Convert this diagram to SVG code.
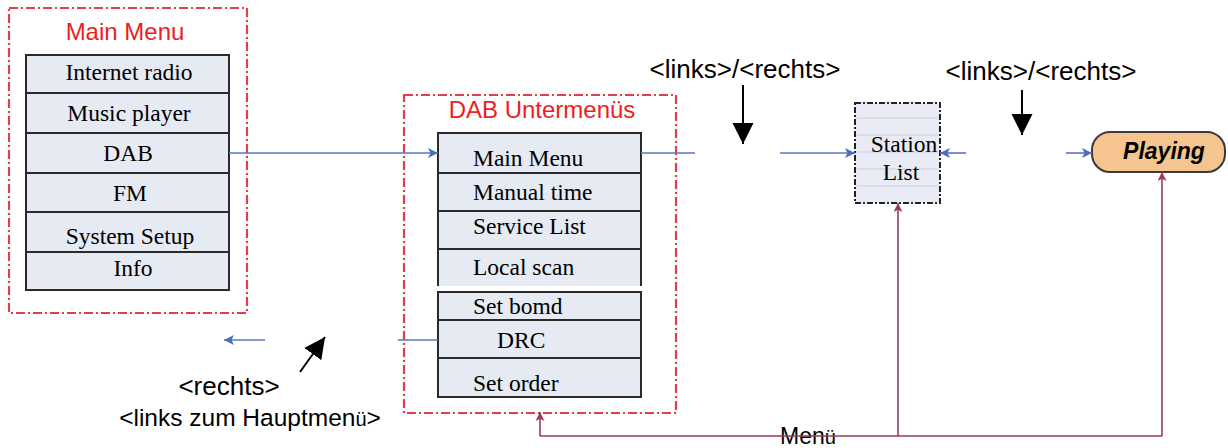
<svg xmlns="http://www.w3.org/2000/svg" width="1228" height="448" viewBox="0 0 1228 448">
<style>
.frame{fill:none;stroke:#e0404e;stroke-width:2.2;stroke-dasharray:9 3 2 3}
.title{font-family:"Liberation Sans",Arial,sans-serif;font-size:24px;fill:#f01c24;text-anchor:middle}
.item{fill:#e6eaf3;stroke:#2a2a2a;stroke-width:2}
.it{font-family:"Liberation Serif","Times New Roman",serif;font-size:23.5px;fill:#000}
.c{text-anchor:middle}
.lbl{font-family:"Liberation Sans",Arial,sans-serif;font-size:26px;fill:#000;text-anchor:middle}
.blue{stroke:#5878bb;stroke-width:1.6;fill:none}
.maroon{stroke:#9a3a5a;stroke-width:1.6;fill:none}
.black{stroke:#000;stroke-width:2;fill:none}
</style>
<defs>
<marker id="ab" viewBox="0 0 10 10" refX="10" refY="5" markerWidth="10" markerHeight="10" markerUnits="userSpaceOnUse" orient="auto"><path d="M0,0 L10,5 L0,10 L2.5,5 Z" fill="#4a6fb8"/></marker>
<marker id="am" viewBox="0 0 10 10" refX="10" refY="5" markerWidth="9" markerHeight="9" markerUnits="userSpaceOnUse" orient="auto"><path d="M0,0 L10,5 L0,10 L2.5,5 Z" fill="#9a3a5a"/></marker>
<marker id="ak" viewBox="0 0 10 10" refX="10" refY="5" markerWidth="21" markerHeight="23" markerUnits="userSpaceOnUse" orient="auto"><path d="M0,0 L10,5 L0,10 Z" fill="#000"/></marker>
</defs>

<g id="main-menu">
<rect class="frame" x="9" y="8" width="238" height="305"/>
<text class="title" x="125" y="40">Main Menu</text>
</g>
<g id="mm-internet"><rect class="item" x="26" y="55" width="203" height="38"/><text class="it c" x="129" y="80">Internet radio</text></g>
<g id="mm-music"><rect class="item" x="26" y="93" width="203" height="40"/><text class="it c" x="129" y="121">Music player</text></g>
<g id="mm-dab"><rect class="item" x="26" y="133" width="203" height="40"/><text class="it c" x="128" y="161">DAB</text></g>
<g id="mm-fm"><rect class="item" x="26" y="173" width="203" height="39"/><text class="it c" x="130" y="201">FM</text></g>
<g id="mm-system"><rect class="item" x="26" y="212" width="203" height="40"/><text class="it c" x="130" y="244">System Setup</text></g>
<g id="mm-info"><rect class="item" x="26" y="252" width="203" height="38"/><text class="it c" x="133" y="276">Info</text></g>

<g id="dab-menu">
<rect class="frame" x="404" y="95" width="272" height="318"/>
<text class="title" x="542" y="118">DAB Untermenüs</text>
</g>
<g id="dab-main"><rect class="item" x="438" y="133" width="203" height="40"/><text class="it" x="473" y="166">Main Menu</text></g>
<g id="dab-manual"><rect class="item" x="438" y="173" width="203" height="38"/><text class="it" x="473" y="200">Manual time</text></g>
<g id="dab-service"><rect class="item" x="438" y="211" width="203" height="38"/><text class="it" x="473" y="234">Service List</text></g>
<g id="dab-local"><rect x="438" y="249" width="203" height="37" fill="#e6eaf3"/><path d="M438,286 V249 H641 V286" stroke="#2a2a2a" stroke-width="2" fill="none"/><text class="it" x="473" y="275">Local scan</text></g>
<g id="dab-setbomd"><rect class="item" x="438" y="292" width="203" height="28"/><text class="it" x="473" y="314">Set bomd</text></g>
<g id="dab-drc"><rect class="item" x="438" y="320" width="203" height="38"/><text class="it" x="497" y="348">DRC</text></g>
<g id="dab-setorder"><rect class="item" x="438" y="358" width="203" height="39"/><text class="it" x="473" y="391">Set order</text></g>

<g id="station-list">
<rect x="855" y="103" width="85" height="100" fill="#e8ebf3"/>
<g stroke="#c9cfdd" stroke-width="1">
<line x1="857" y1="118" x2="938" y2="118"/><line x1="857" y1="135" x2="938" y2="135"/><line x1="857" y1="152" x2="938" y2="152"/><line x1="857" y1="169" x2="938" y2="169"/><line x1="857" y1="186" x2="938" y2="186"/>
</g>
<rect x="855" y="103" width="85" height="100" fill="none" stroke="#222" stroke-width="2" stroke-dasharray="6 2 2 2"/>
<text class="it c" x="904" y="152">Station</text>
<text class="it c" x="901" y="180">List</text>
</g>

<g id="playing">
<rect x="1092" y="132" width="133" height="40" rx="18" ry="18" fill="#f6c48e" stroke="#3a3a3a" stroke-width="2"/>
<text x="1164" y="159" font-family="Liberation Sans,Arial,sans-serif" font-size="23" font-weight="bold" font-style="italic" text-anchor="middle">Playing</text>
</g>

<g id="labels">
<text class="lbl" x="745" y="78">&lt;links&gt;/&lt;rechts&gt;</text>
<text class="lbl" x="1041" y="80">&lt;links&gt;/&lt;rechts&gt;</text>
<text class="lbl" x="229" y="395">&lt;rechts&gt;</text>
<text class="lbl" x="250" y="426" style="font-size:24.5px">&lt;links zum Hauptmen<tspan style="font-size:20px">ü</tspan>&gt;</text>
<text class="lbl" x="808" y="444" style="font-size:23px">Men<tspan style="font-size:20px">ü</tspan></text>
</g>

<g id="connectors">
<line class="blue" x1="229" y1="153" x2="438" y2="153" marker-end="url(#ab)"/>
<line class="blue" x1="641" y1="153" x2="695" y2="153"/>
<line class="blue" x1="780" y1="153" x2="855" y2="153" marker-end="url(#ab)"/>
<line class="blue" x1="966" y1="153" x2="940" y2="153" marker-end="url(#ab)"/>
<line class="blue" x1="1066" y1="153" x2="1092" y2="153" marker-end="url(#ab)"/>
<line class="blue" x1="265" y1="340" x2="224" y2="340" marker-end="url(#ab)"/>
<line class="blue" x1="398" y1="340" x2="438" y2="340"/>
<line class="black" x1="743" y1="85" x2="743" y2="144" marker-end="url(#ak)"/>
<line class="black" x1="1022" y1="90" x2="1022" y2="135" marker-end="url(#ak)"/>
<line class="black" x1="300" y1="372" x2="325" y2="337" marker-end="url(#ak)"/>
<polyline class="maroon" points="1162,436 540,436"/>
<line class="maroon" x1="540" y1="436" x2="540" y2="412" marker-end="url(#am)"/>
<line class="maroon" x1="898" y1="436" x2="898" y2="203" marker-end="url(#am)"/>
<line class="maroon" x1="1162" y1="436" x2="1162" y2="172" marker-end="url(#am)"/>
</g>
</svg>
